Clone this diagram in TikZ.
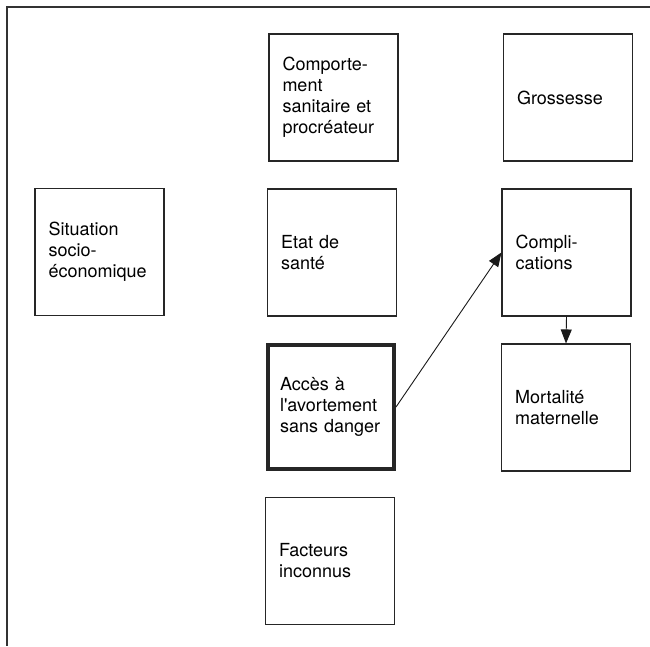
\documentclass[tikz,border=0pt]{standalone}
\usepackage{fontspec}
\setmainfont{TeX Gyre Heros}
\usetikzlibrary{arrows.meta}
\begin{document}
\begin{tikzpicture}[x=1pt,y=-1pt,
  box/.style={draw=black!85, line width=1.1pt, rectangle, minimum width=129pt, minimum height=127pt,
    text width=102pt, inner xsep=13.5pt, inner ysep=0pt, align=left,
    execute at begin node={\hyphenpenalty=10000\hbadness=10000\hfuzz=5pt},
    font=\fontsize{18}{21}\selectfont},
  thickbox/.style={box, line width=4pt, minimum width=126pt, minimum height=124pt, inner xsep=12pt},
  link/.style={draw=black!90, line width=0.9pt, -{Triangle[length=14pt,width=11pt]}}]
\useasboundingbox (0,0) rectangle (650,646);
\draw[black!80, line width=1.2pt] (650,7) -- (7,7) -- (7,646);
\node[box] (comp) at (333.5,97.5) {Comporte-\\ment\\sanitaire et\\procréateur};
\node[box] (gros) at (568,97.5) {Grossesse};
\node[box] (sit) at (99.5,252) {Situation\\socio-\\économique};
\node[box] (etat) at (332,252.5) {Etat de\\santé};
\node[box] (cmpl) at (566.5,252.5) {Compli-\\cations};
\node[thickbox] (acces) at (331,407) {Accès à\\l\textquotesingle avortement\\sans danger};
\node[box] (mort) at (566,407.5) {Mortalité\\maternelle};
\node[box] (fact) at (330,561) {Facteurs\\inconnus};
\draw[link] (acces.east) -- (cmpl.west);
\draw[link] (cmpl.south) -- (mort.north);
\end{tikzpicture}
\end{document}
